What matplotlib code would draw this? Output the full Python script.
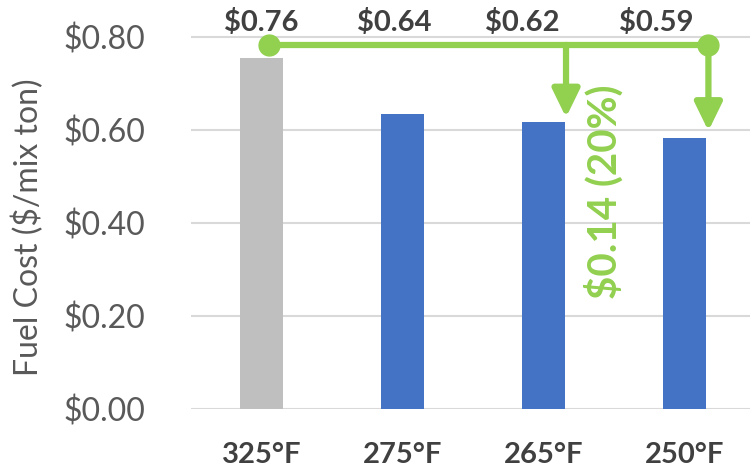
import matplotlib
matplotlib.use("Agg")
import matplotlib.pyplot as plt

categories = ["325°F", "275°F", "265°F", "250°F"]
fuel_cost = [0.755, 0.634, 0.617, 0.583]
value_labels = ["$0.76", "$0.64", "$0.62", "$0.59"]
bar_colors = ["#BFBFBF", "#4472C4", "#4472C4", "#4472C4"]
yticks = [0.0, 0.2, 0.4, 0.6, 0.8]
ytick_labels = ["$0.00", "$0.20", "$0.40", "$0.60", "$0.80"]
savings_label = "$0.14 (20%)"

GREEN = "#92D050"
plt.rcParams['font.family'] = ['Lato', 'DejaVu Sans']

fig = plt.figure(figsize=(7.5, 4.71), dpi=100)
ax = fig.add_axes([0.2547, 0.1316, 0.7453, 0.8392])
x = list(range(len(categories)))
ax.bar(x, fuel_cost, width=0.31, color=bar_colors, zorder=2)

ax.set_xlim(-0.5, 3.465)
ax.set_ylim(0, 0.85)
ax.set_yticks(yticks)
ax.set_yticklabels(ytick_labels, fontsize=23, color="#595959")
ax.set_xticks(x)
ax.set_xticklabels(categories, fontsize=21, fontweight="bold", color="#404040")
ax.tick_params(axis="both", length=0)
ax.tick_params(axis="y", pad=33)
ax.tick_params(axis="x", pad=24)
ax.yaxis.grid(True, color="#D9D9D9", linewidth=1.5, zorder=0)
ax.set_axisbelow(True)
for s in ax.spines.values():
    s.set_visible(False)
ax.set_ylabel("Fuel Cost ($/mix ton)", fontsize=23, color="#595959")
ax.yaxis.set_label_coords(-0.262, 0.46)

# value labels
label_x = [0.0, 0.94, 1.85, 2.80]
for lx, t in zip(label_x, value_labels):
    ax.text(lx, 0.832, t, ha="center", va="center", fontsize=21,
            fontweight="bold", color="#404040", clip_on=False, zorder=5)

# green savings annotation
line_y = 0.783
x0, x1, xm = 0.05, 3.17, 2.16
ax.plot([x0, x1], [line_y, line_y], color=GREEN, lw=4.5, zorder=4,
        solid_capstyle="butt")
ax.plot([x0, x1], [line_y, line_y], "o", color=GREEN, ms=15, zorder=4)
for ax_x, tip in [(xm, fuel_cost[2] + 0.01), (x1, fuel_cost[3] + 0.015)]:
    ax.annotate("", xy=(ax_x, tip), xytext=(ax_x, line_y),
                arrowprops=dict(arrowstyle="-|>,head_width=0.83,head_length=1.7",
                                color=GREEN, lw=4.5, shrinkA=0, shrinkB=0),
                zorder=4)
ax.text(2.43, 0.467, savings_label, rotation=90, ha="center", va="center",
        fontsize=29, fontweight="bold", color=GREEN, zorder=5)

fig.savefig("out.png", dpi=100)
